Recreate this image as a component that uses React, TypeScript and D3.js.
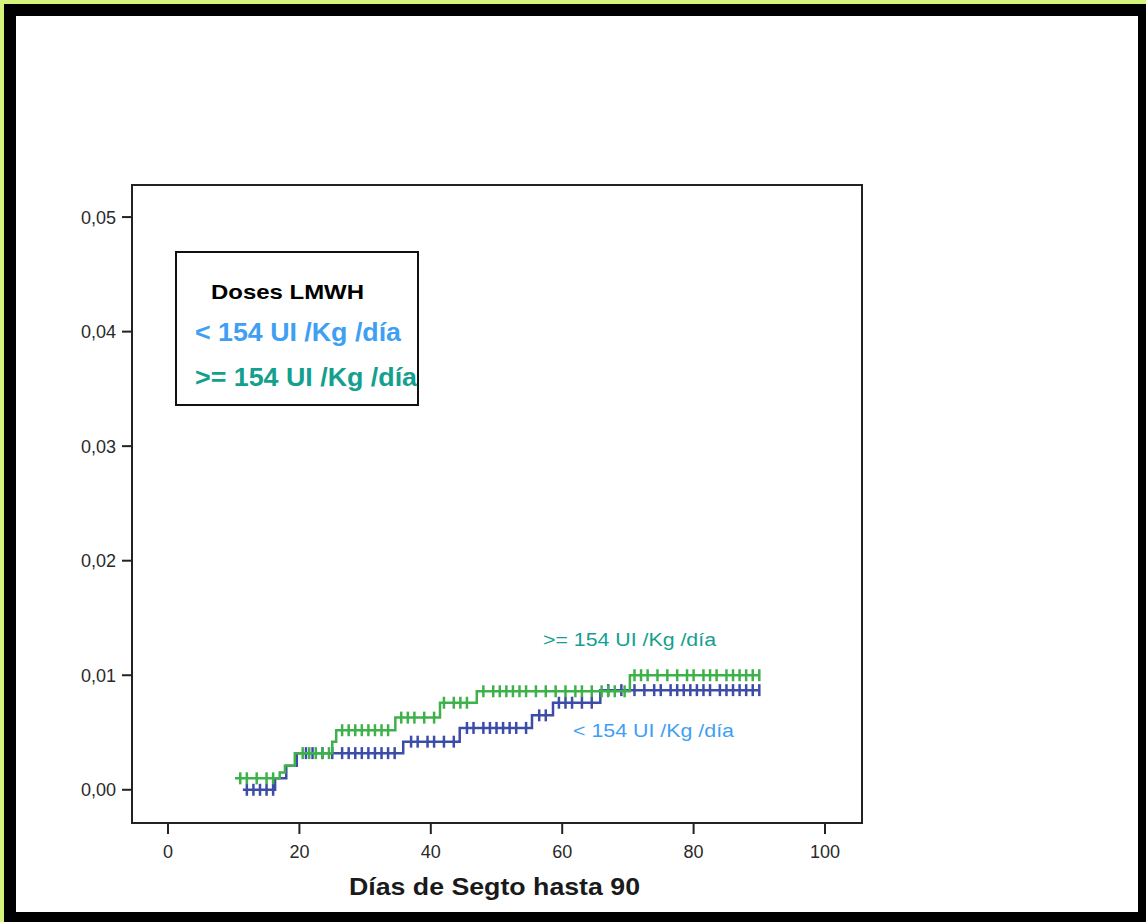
import * as d3 from 'd3'

// Kaplan-Meier style cumulative incidence
const yTicks = [0, 0.01, 0.02, 0.03, 0.04, 0.05]
const xTicks = [0, 20, 40, 60, 80, 100]
const endDay = 90

const lowDoseSteps = [
  { day: 11.4, value: 0.0 },
  { day: 16.3, value: 0.001 },
  { day: 18.0, value: 0.0021 },
  { day: 19.6, value: 0.0032 },
  { day: 35.8, value: 0.0042 },
  { day: 44.4, value: 0.0054 },
  { day: 55.4, value: 0.0065 },
  { day: 58.6, value: 0.0076 },
  { day: 65.8, value: 0.0087 },
]
const lowDoseCensored = [
  12, 13, 14, 15, 16, 21, 22, 23.5, 25, 26.5, 27.5, 28.5, 29.5, 30.5, 31.5, 32.5, 33.5, 34.5,
  37, 38, 39.5, 40.5, 42, 43.5, 45.5, 46.5, 48, 49, 50, 51, 52, 53, 54.5, 56.5, 57.5,
  59.5, 60.5, 61.5, 63, 64.5, 67, 69, 71, 72.5, 74, 75, 76.5, 77.5, 78.5, 79.5, 80.5,
  81.5, 82.5, 84, 85, 86, 87, 88, 89, 90,
]

const highDoseSteps = [
  { day: 10.2, value: 0.001 },
  { day: 17.0, value: 0.0015 },
  { day: 17.8, value: 0.0021 },
  { day: 19.3, value: 0.0032 },
  { day: 25.0, value: 0.0042 },
  { day: 25.6, value: 0.0052 },
  { day: 34.6, value: 0.0063 },
  { day: 41.4, value: 0.0076 },
  { day: 47.0, value: 0.0086 },
  { day: 70.3, value: 0.01 },
]
const highDoseCensored = [
  11, 12, 13.5, 15, 16, 20.5, 21.5, 22.5, 23.5, 24.5, 26.5, 27.5, 28.5, 29.5, 30.5, 31.5,
  32.5, 33.5, 35.5, 36.5, 37.5, 39, 40.5, 42, 43.5, 44.5, 45.5, 48, 49.5, 50.5, 51.5, 52.5,
  53.5, 54.5, 56, 57.5, 59, 60.5, 62, 63, 64.5, 66, 67, 68, 69.5, 71, 72, 73, 74.5, 76,
  77.5, 79, 80, 81.5, 82.5, 83.5, 85, 86, 87, 88, 89, 90,
]

const groups = [
  { key: 'low', label: '< 154 UI /Kg /día', steps: lowDoseSteps, censored: lowDoseCensored, line: '#3d4ca6', text: '#3f9ff2' },
  { key: 'high', label: '>= 154 UI /Kg /día', steps: highDoseSteps, censored: highDoseCensored, line: '#3fb14a', text: '#13a08f' },
]

const W = 1146
const H = 922
const plot = { left: 132, top: 185, right: 862, bottom: 823 }
const font = '"Liberation Sans", Arial, sans-serif'

function valueAt(steps, day) {
  let v = steps[0].value
  for (const s of steps) if (s.day <= day) v = s.value
  return v
}

export default function App() {
  const x = d3.scaleLinear().domain([-5.48, 105.63]).range([plot.left, plot.right])
  const y = d3.scaleLinear().domain([-0.0029, 0.0528]).range([plot.bottom, plot.top])
  const line = d3.line().x(d => x(d.day)).y(d => y(d.value)).curve(d3.curveStepAfter)
  const fmt = (v) => d3.format('.2f')(v).replace('.', ',')

  return (
    <svg width={W} height={H} style={{ position: 'absolute', left: 0, top: 0 }} fontFamily={font}>
      <rect x={0} y={0} width={W} height={H} fill="#d4f47c" />
      <rect x={4} y={4} width={W - 4} height={H - 4} fill="#000" />
      <rect x={16} y={16} width={1122} height={896} fill="#fff" />

      {/* plot frame */}
      <rect x={plot.left} y={plot.top} width={plot.right - plot.left} height={plot.bottom - plot.top}
        fill="none" stroke="#222" strokeWidth={2} />

      {yTicks.map(t => (
        <g key={t}>
          <line x1={plot.left - 10} x2={plot.left} y1={y(t)} y2={y(t)} stroke="#222" strokeWidth={2} />
          <text x={116} y={y(t)} dy="0.36em" textAnchor="end" fontSize={18} fill="#2a2a2a">{fmt(t)}</text>
        </g>
      ))}
      {xTicks.map(t => (
        <g key={t}>
          <line x1={x(t)} x2={x(t)} y1={plot.bottom} y2={plot.bottom + 11} stroke="#222" strokeWidth={2} />
          <text x={x(t)} y={858} textAnchor="middle" fontSize={18} fill="#2a2a2a">{t}</text>
        </g>
      ))}

      <text x={349} y={895} fontSize={24} fontWeight="bold" fill="#1a1a1a" textLength={291} lengthAdjust="spacingAndGlyphs">
        Días de Segto hasta 90
      </text>

      {/* curves */}
      {groups.map(g => {
        const pts = [...g.steps, { day: endDay, value: g.steps[g.steps.length - 1].value }]
        return (
          <g key={g.key}>
            <path d={line(pts)} fill="none" stroke={g.line} strokeWidth={2.5} />
            {g.censored.map((c, i) => {
              const cy = y(valueAt(g.steps, c))
              return <line key={i} x1={x(c)} x2={x(c)} y1={cy - 6} y2={cy + 6} stroke={g.line} strokeWidth={2.5} />
            })}
          </g>
        )
      })}

      {/* legend */}
      <rect x={176} y={252} width={242} height={153} fill="#fff" stroke="#111" strokeWidth={2} />
      <text x={211} y={299} fontSize={21} fontWeight="bold" fill="#000" textLength={153} lengthAdjust="spacingAndGlyphs">Doses LMWH</text>
      <text x={195} y={341} fontSize={25} fontWeight="bold" fill={groups[0].text} textLength={206} lengthAdjust="spacingAndGlyphs">{groups[0].label}</text>
      <text x={195} y={386} fontSize={25} fontWeight="bold" fill={groups[1].text} textLength={222} lengthAdjust="spacingAndGlyphs">{groups[1].label}</text>

      {/* curve labels */}
      <text x={543} y={646} fontSize={18} fill={groups[1].text} textLength={173} lengthAdjust="spacingAndGlyphs">{groups[1].label}</text>
      <text x={573} y={737} fontSize={18} fill={groups[0].text} textLength={161} lengthAdjust="spacingAndGlyphs">{groups[0].label}</text>
    </svg>
  )
}
